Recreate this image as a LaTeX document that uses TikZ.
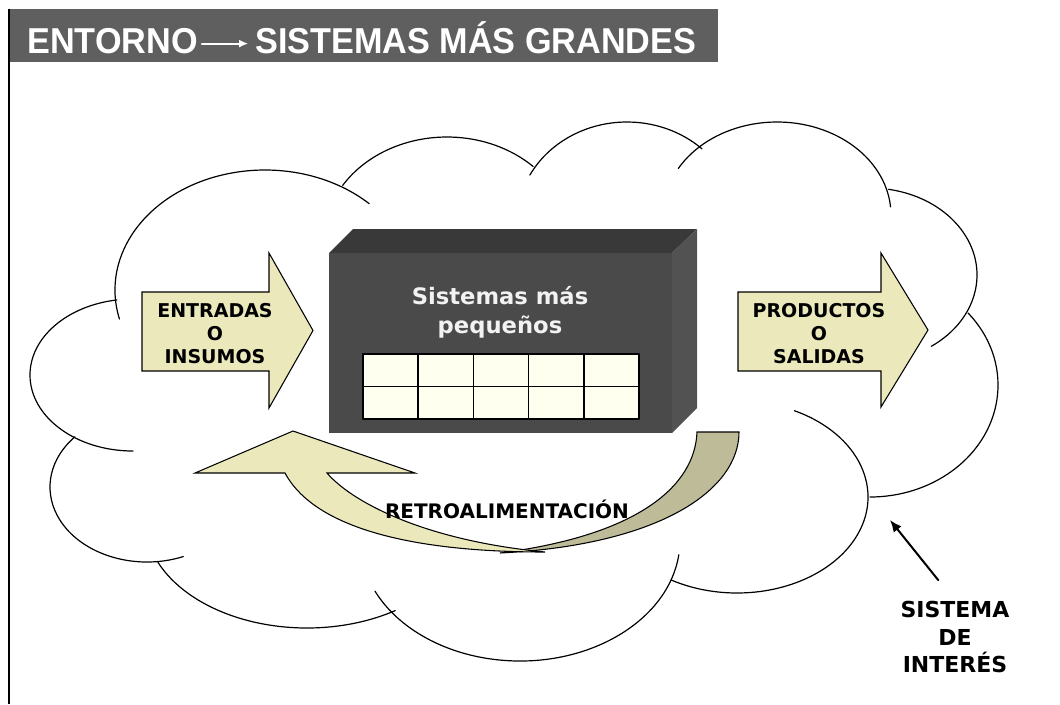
\documentclass[tikz,border=0pt]{standalone}
\usepackage{fontspec}
\usepackage{tikz}
\usetikzlibrary{arrows.meta}

\newfontfamily\hdrfont{Liberation Sans}[FakeStretch=0.95]
\newfontfamily\lblfont{DejaVu Sans}

\definecolor{hdrgray}{HTML}{5F5F5F}
\definecolor{boxfront}{HTML}{4A4A4A}
\definecolor{boxtop}{HTML}{393939}
\definecolor{boxside}{HTML}{525252}
\definecolor{cellfill}{HTML}{FFFFF0}
\definecolor{arrowfill}{HTML}{EBE9BB}
\definecolor{arrowdark}{HTML}{BEBC98}

\begin{document}
\begin{tikzpicture}[
    x=0.75pt,y=-0.75pt,
    >={Latex[length=9pt,width=7.5pt]},
    line join=round,line cap=round,
    lobe/.style={line width=0.9pt},
    blockarrow/.style={draw=black,line width=0.8pt,fill=arrowfill,line join=miter},
    tag/.style={font=\lblfont\bfseries\fontsize{14.25}{17.25}\selectfont,
        align=center,inner sep=0pt},
    hdrtext/.style={font=\hdrfont\bfseries\fontsize{27}{30}\selectfont,
        text=white,inner sep=0pt,anchor=base west},
    cell/.style={draw=black,line width=1.1pt,fill=cellfill,
        minimum width=41.4pt,minimum height=24.4pt,inner sep=0pt}
  ]
    \useasboundingbox (0,0) rectangle (1060,704);

    % title bar
    \fill[hdrgray] (9,9) rectangle (718,62);
    \draw[line width=1pt,line cap=butt] (9,9) -- (9,704);
    \node[hdrtext] (env) at (27,53) {ENTORNO};
    \node[hdrtext] (big) at (255,53) {SISTEMAS MÁS GRANDES};
    \draw[white,line width=1.5pt,-{Latex[length=7pt,width=6pt]},
        shorten <=3pt,shorten >=5pt]
        ([yshift=-2.25pt]env.east) -- ([yshift=-2.25pt]env.east -| big.west);

    % cloud
    \draw[lobe] (265,290) ++(166:150 and 120) arc[start angle=166,end angle=314,x radius=150,y radius=120];
    \draw[lobe] (447,240) ++(212:123 and 103) arc[start angle=212,end angle=314.5,x radius=123,y radius=103];
    \draw[lobe] (627,222) ++(208:110 and 100) arc[start angle=208,end angle=313,x radius=110,y radius=100];
    \draw[lobe] (777,215) ++(210:114 and 93) arc[start angle=210,end angle=355,x radius=114,y radius=93];
    \draw[lobe] (870,275) ++(280:107 and 87) arc[start angle=280,end angle=415,x radius=107,y radius=87];
    \draw[lobe] (870,385) ++(-40:128 and 112) arc[start angle=-40,end angle=90,x radius=128,y radius=112];
    \draw[lobe] (737,497) ++(-64:131 and 96) arc[start angle=-64,end angle=120,x radius=131,y radius=96];
    \draw[lobe] (520,540) ++(7:160 and 121) arc[start angle=7,end angle=155,x radius=160,y radius=121];
    \draw[lobe] (307,520) ++(57:162 and 108) arc[start angle=57,end angle=157,x radius=162,y radius=108];
    \draw[lobe] (147,487) ++(68:97 and 75) arc[start angle=68,end angle=222,x radius=97,y radius=75];
    \draw[lobe] (133,375) ++(90:103 and 76) arc[start angle=90,end angle=261,x radius=103,y radius=76];

    % block with smaller systems
    \fill[boxtop] (329,253) -- (353,229) -- (697,229) -- (672,253) -- cycle;
    \fill[boxside] (672,253) -- (697,229) -- (697,408) -- (672,433) -- cycle;
    \fill[boxfront] (329,253) rectangle (672,433);
    \node[font=\lblfont\bfseries\fontsize{17}{21.75}\selectfont,text=white!95!black,
        align=center,inner sep=0pt] (small) at (500,312) {Sistemas más\\pequeños};
    \foreach \r in {0,1}
      \foreach \c in {0,...,4}
        \node[cell] (cell-\r-\c) at ({363+55.2*(\c+0.5)},{354+32.5*(\r+0.5)}) {};

    % inputs and outputs
    \draw[blockarrow] (142,292) -- (269,292) -- (269,253) -- (313,330.5)
        -- (269,408) -- (269,371) -- (142,371) -- cycle;
    \node[tag] (inputs) at (215,334) {ENTRADAS\\O\\INSUMOS};
    \draw[blockarrow] (738,292) -- (881,292) -- (881,253) -- (928,330)
        -- (881,407) -- (881,371) -- (738,371) -- cycle;
    \node[tag] (outputs) at (819,334) {PRODUCTOS\\O\\SALIDAS};

    % feedback
    \draw[blockarrow,fill=arrowdark] (697,432) -- (739,432)
        .. controls (739,490) and (660,545) .. (500,553)
        .. controls (640,535) and (695,485) .. (697,432) -- cycle;
    \draw[blockarrow] (293,431) -- (415,473) -- (327,473)
        .. controls (350,500) and (420,540) .. (545,552)
        .. controls (390,552) and (310,520) .. (285,473)
        -- (195,473) -- cycle;
    \node[tag,font=\lblfont\bfseries\fontsize{15}{18}\selectfont] (feedback) at (507,509) {RETROALIMENTACIÓN};

    % system of interest
    \node[tag,font=\lblfont\bfseries\fontsize{16.5}{20.6}\selectfont] (interest) at (955,637) {SISTEMA\\DE\\INTERÉS};
    \coordinate (cloudedge) at (890,520);
    \draw[->,line width=1.5pt,shorten <=20pt] (interest.north) -- (cloudedge);
\end{tikzpicture}
\end{document}
